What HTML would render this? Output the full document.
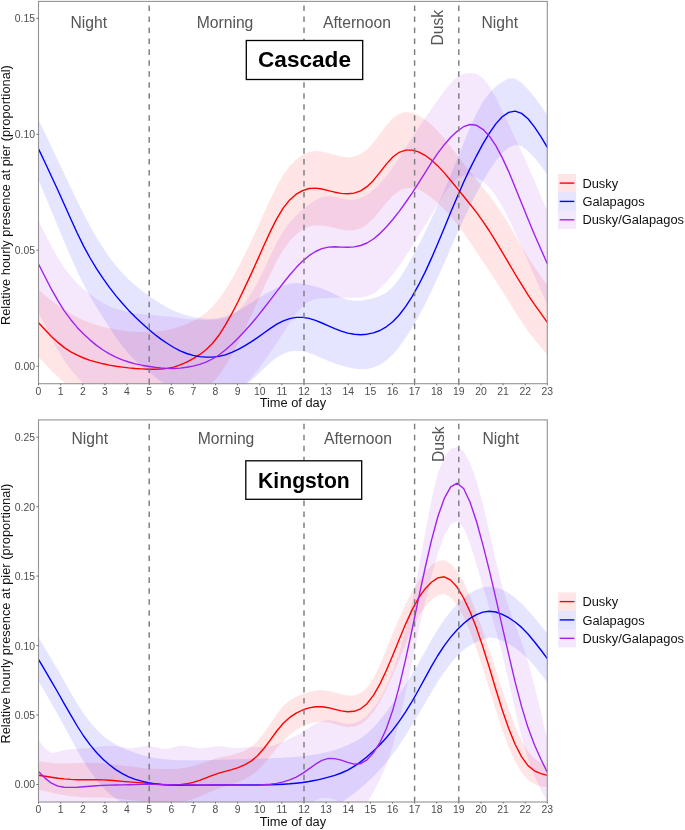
<!DOCTYPE html>
<html lang="en"><head><meta charset="utf-8"><title>Relative hourly presence at pier</title>
<style>
html,body{margin:0;padding:0;background:#fff}
body{width:685px;height:830px;overflow:hidden}
svg{display:block;will-change:transform}
text{font-family:"Liberation Sans",Arial,sans-serif}
.tk{font-size:10.4px;fill:#4d4d4d}
.ax{font-size:12.82px;fill:#111}
.lg{font-size:12.88px;fill:#111}
.pl{font-size:15.7px;fill:#555}
.tt{font-size:22.6px;font-weight:bold;fill:#000}
</style></head><body>
<svg width="685" height="830" viewBox="0 0 685 830">
<rect width="685" height="830" fill="#fff"/>
<clipPath id="cpt"><rect x="38.5" y="1.4" width="508.8" height="382.3"/></clipPath>
<g clip-path="url(#cpt)">
<path d="M38.5 289.8L45.0 295.2L51.4 300.4L57.9 305.3L64.3 309.8L70.8 313.7L77.2 317.2L83.6 320.2L90.1 322.8L96.5 325.0L103.0 326.8L109.4 328.3L115.8 329.5L122.3 330.4L128.7 331.2L135.2 331.7L141.6 332.0L148.0 332.0L154.5 331.7L160.9 331.0L167.4 329.9L173.8 328.4L180.2 326.5L186.7 324.1L193.1 321.1L199.6 317.4L206.0 312.7L212.4 306.7L218.9 299.1L225.3 289.9L231.8 279.2L238.2 267.4L244.6 254.8L251.1 241.4L257.5 227.5L263.9 213.1L270.4 199.0L276.8 186.0L283.3 174.8L289.7 165.9L296.2 159.4L302.6 154.8L309.0 151.9L315.5 150.9L321.9 151.5L328.4 153.0L334.8 155.0L341.2 156.6L347.7 157.4L354.1 156.6L360.6 154.0L367.0 149.4L373.4 142.5L379.9 134.1L386.3 125.5L392.8 118.3L399.2 113.8L405.6 111.9L412.1 112.7L418.5 115.4L425.0 119.4L431.4 124.6L437.8 131.1L444.3 138.6L450.7 146.7L457.2 155.1L463.6 163.4L470.0 171.5L476.5 179.4L482.9 187.4L489.4 195.6L495.8 204.3L502.2 213.7L508.7 224.1L515.1 235.2L521.6 246.3L528.0 256.9L534.4 266.7L540.9 276.0L547.3 285.0L547.3 354.7L540.9 347.3L534.4 339.6L528.0 331.2L521.6 321.9L515.1 311.8L508.7 301.4L502.2 291.0L495.8 280.9L489.4 271.2L482.9 261.5L476.5 251.8L470.0 242.2L463.6 232.9L457.2 224.3L450.7 216.6L444.3 209.6L437.8 203.3L431.4 197.7L425.0 192.9L418.5 189.5L412.1 187.9L405.6 188.3L399.2 190.9L392.8 195.7L386.3 202.8L379.9 210.9L373.4 218.6L367.0 224.6L360.6 228.4L354.1 230.2L347.7 230.5L341.2 229.6L334.8 228.1L328.4 226.6L321.9 225.5L315.5 225.4L309.0 226.5L302.6 229.4L296.2 234.2L289.7 241.0L283.3 250.0L276.8 261.1L270.4 273.9L263.9 287.7L257.5 302.0L251.1 316.1L244.6 329.8L238.2 342.9L231.8 355.1L225.3 366.1L218.9 375.4L212.4 382.7L206.0 388.0L199.6 391.9L193.1 395.1L186.7 398.1L180.2 400.8L173.8 403.2L167.4 405.1L160.9 406.5L154.5 407.5L148.0 408.1L141.6 408.2L135.2 407.9L128.7 407.2L122.3 406.2L115.8 404.8L109.4 403.2L103.0 401.4L96.5 399.4L90.1 397.1L83.6 394.4L77.2 391.1L70.8 387.2L64.3 382.5L57.9 377.0L51.4 370.8L45.0 364.0L38.5 357.0Z" fill="#ff0000" fill-opacity="0.1"/>
<path d="M38.5 119.8L45.0 133.2L51.4 146.7L57.9 160.3L64.3 173.9L70.8 187.6L77.2 200.9L83.6 213.8L90.1 226.0L96.5 237.4L103.0 247.8L109.4 257.2L115.8 265.5L122.3 272.9L128.7 279.4L135.2 285.2L141.6 290.4L148.0 295.2L154.5 299.7L160.9 303.8L167.4 307.5L173.8 310.7L180.2 313.3L186.7 315.3L193.1 316.9L199.6 318.1L206.0 318.8L212.4 318.8L218.9 318.0L225.3 316.3L231.8 313.9L238.2 310.7L244.6 306.9L251.1 302.9L257.5 298.7L263.9 294.8L270.4 291.2L276.8 288.1L283.3 285.5L289.7 283.6L296.2 283.0L302.6 283.7L309.0 285.0L315.5 286.5L321.9 288.4L328.4 291.0L334.8 294.2L341.2 297.4L347.7 299.8L354.1 300.8L360.6 300.7L367.0 299.7L373.4 298.2L379.9 296.1L386.3 292.6L392.8 287.0L399.2 278.9L405.6 268.7L412.1 257.1L418.5 244.9L425.0 232.2L431.4 218.9L437.8 204.9L444.3 190.2L450.7 174.8L457.2 159.0L463.6 142.9L470.0 127.4L476.5 113.3L482.9 101.7L489.4 92.9L495.8 86.5L502.2 81.7L508.7 78.4L515.1 78.5L521.6 82.7L528.0 89.3L534.4 97.1L540.9 105.8L547.3 114.9L547.3 174.8L540.9 165.9L534.4 157.7L528.0 150.9L521.6 146.3L515.1 144.8L508.7 147.5L502.2 153.2L495.8 161.0L489.4 170.6L482.9 181.5L476.5 193.3L470.0 206.0L463.6 219.4L457.2 233.5L450.7 248.2L444.3 262.9L437.8 277.4L431.4 291.3L425.0 304.4L418.5 316.5L412.1 327.8L405.6 338.0L399.2 346.9L392.8 354.4L386.3 360.4L379.9 364.7L373.4 367.6L367.0 369.1L360.6 369.3L354.1 368.5L347.7 367.2L341.2 365.4L334.8 363.4L328.4 360.9L321.9 358.2L315.5 355.3L309.0 352.9L302.6 351.2L296.2 350.7L289.7 351.6L283.3 353.8L276.8 357.6L270.4 362.6L263.9 368.5L257.5 374.7L251.1 380.7L244.6 385.8L238.2 389.7L231.8 392.6L225.3 394.5L218.9 395.6L212.4 396.2L206.0 396.3L199.6 395.8L193.1 395.0L186.7 393.6L180.2 391.8L173.8 389.2L167.4 385.9L160.9 381.6L154.5 376.6L148.0 371.3L141.6 366.1L135.2 360.5L128.7 354.1L122.3 346.3L115.8 337.3L109.4 327.5L103.0 317.4L96.5 307.2L90.1 296.4L83.6 284.6L77.2 271.5L70.8 257.1L64.3 242.0L57.9 226.6L51.4 211.1L45.0 195.5L38.5 179.9Z" fill="#0000ff" fill-opacity="0.1"/>
<path d="M38.5 220.5L45.0 233.7L51.4 246.3L57.9 257.8L64.3 267.8L70.8 276.2L77.2 283.2L83.6 289.2L90.1 294.5L96.5 299.1L103.0 302.9L109.4 306.2L115.8 308.8L122.3 310.8L128.7 312.3L135.2 313.4L141.6 314.1L148.0 314.7L154.5 315.3L160.9 315.9L167.4 316.5L173.8 317.3L180.2 318.1L186.7 318.9L193.1 319.6L199.6 320.0L206.0 320.1L212.4 319.8L218.9 319.2L225.3 317.9L231.8 315.2L238.2 310.5L244.6 303.3L251.1 293.8L257.5 282.4L263.9 269.4L270.4 255.7L276.8 242.6L283.3 231.3L289.7 222.4L296.2 215.5L302.6 209.7L309.0 204.4L315.5 200.0L321.9 196.9L328.4 195.9L334.8 196.8L341.2 198.5L347.7 199.8L354.1 199.7L360.6 198.0L367.0 194.7L373.4 189.9L379.9 183.7L386.3 176.2L392.8 167.6L399.2 158.0L405.6 147.8L412.1 137.5L418.5 127.6L425.0 118.2L431.4 109.0L437.8 99.9L444.3 90.9L450.7 82.9L457.2 76.9L463.6 73.7L470.0 72.9L476.5 73.8L482.9 77.9L489.4 86.3L495.8 97.6L502.2 110.7L508.7 124.1L515.1 137.8L521.6 151.7L528.0 166.1L534.4 180.8L540.9 195.9L547.3 211.0L547.3 304.8L540.9 290.3L534.4 275.9L528.0 261.3L521.6 246.8L515.1 232.4L508.7 218.8L502.2 206.5L495.8 195.9L489.4 187.4L482.9 181.2L476.5 177.4L470.0 175.6L463.6 175.5L457.2 178.4L450.7 184.9L444.3 194.0L437.8 204.3L431.4 215.0L425.0 225.6L418.5 236.1L412.1 246.4L405.6 256.4L399.2 265.9L392.8 274.5L386.3 282.2L379.9 288.6L373.4 293.4L367.0 296.3L360.6 297.5L354.1 297.7L347.7 297.5L341.2 297.5L334.8 297.7L328.4 297.9L321.9 298.2L315.5 299.1L309.0 301.4L302.6 306.1L296.2 313.5L289.7 322.7L283.3 332.8L276.8 342.7L270.4 352.3L263.9 361.3L257.5 369.9L251.1 377.9L244.6 384.4L238.2 389.6L231.8 394.3L225.3 398.8L218.9 403.0L212.4 406.8L206.0 410.1L199.6 412.9L193.1 415.1L186.7 416.7L180.2 417.7L173.8 418.0L167.4 417.8L160.9 417.0L154.5 416.0L148.0 414.8L141.6 413.6L135.2 412.2L128.7 410.5L122.3 408.4L115.8 405.7L109.4 402.5L103.0 398.8L96.5 394.5L90.1 389.5L83.6 383.8L77.2 377.2L70.8 369.6L64.3 360.7L57.9 350.3L51.4 338.4L45.0 325.6L38.5 312.3Z" fill="#a020f0" fill-opacity="0.1"/>
<path d="M38.5 322.8L45.0 329.7L51.4 336.4L57.9 342.4L64.3 347.6L70.8 351.8L77.2 355.2L83.6 358.0L90.1 360.3L96.5 362.2L103.0 363.8L109.4 365.1L115.8 366.2L122.3 367.1L128.7 367.9L135.2 368.5L141.6 368.9L148.0 369.2L154.5 369.3L160.9 369.1L167.4 368.4L173.8 367.1L180.2 364.9L186.7 362.1L193.1 358.7L199.6 354.7L206.0 349.8L212.4 343.5L218.9 335.3L225.3 325.2L231.8 313.7L238.2 301.2L244.6 287.9L251.1 274.1L257.5 259.9L263.9 245.5L270.4 231.4L276.8 218.6L283.3 207.9L289.7 199.9L296.2 194.2L302.6 190.6L309.0 188.5L315.5 188.1L321.9 189.0L328.4 190.6L334.8 192.2L341.2 193.4L347.7 193.8L354.1 193.1L360.6 190.8L367.0 186.7L373.4 180.4L379.9 172.4L386.3 164.1L392.8 157.0L399.2 152.3L405.6 150.1L412.1 150.1L418.5 151.9L425.0 155.3L431.4 160.0L437.8 165.9L444.3 172.9L450.7 180.5L457.2 188.4L463.6 196.3L470.0 204.2L476.5 212.4L482.9 221.3L489.4 231.0L495.8 241.3L502.2 252.1L508.7 263.1L515.1 274.0L521.6 284.7L528.0 294.8L534.4 304.3L540.9 313.4L547.3 322.3" fill="none" stroke="#ff0000" stroke-width="1.38" stroke-linejoin="round"/>
<path d="M38.5 148.9L45.0 162.5L51.4 176.2L57.9 190.2L64.3 204.5L70.8 219.0L77.2 233.0L83.6 246.1L90.1 258.0L96.5 268.7L103.0 278.4L109.4 287.4L115.8 295.6L122.3 303.3L128.7 310.4L135.2 317.0L141.6 323.1L148.0 328.8L154.5 334.2L160.9 339.1L167.4 343.5L173.8 347.5L180.2 350.8L186.7 353.5L193.1 355.4L199.6 356.6L206.0 357.1L212.4 357.1L218.9 356.4L225.3 354.8L231.8 352.4L238.2 349.4L244.6 345.9L251.1 341.9L257.5 337.6L263.9 333.0L270.4 328.4L276.8 324.2L283.3 320.9L289.7 318.6L296.2 317.4L302.6 317.4L309.0 318.4L315.5 320.4L321.9 323.0L328.4 325.8L334.8 328.6L341.2 331.1L347.7 333.1L354.1 334.3L360.6 334.7L367.0 334.2L373.4 332.8L379.9 330.5L386.3 326.8L392.8 321.7L399.2 315.0L405.6 306.6L412.1 296.6L418.5 285.2L425.0 272.4L431.4 258.4L437.8 243.6L444.3 228.0L450.7 212.3L457.2 196.9L463.6 182.3L470.0 168.6L476.5 155.8L482.9 143.9L489.4 133.1L495.8 123.9L502.2 116.8L508.7 112.4L515.1 111.1L521.6 113.4L528.0 118.8L534.4 126.9L540.9 136.7L547.3 147.4" fill="none" stroke="#0000ff" stroke-width="1.38" stroke-linejoin="round"/>
<path d="M38.5 264.0L45.0 276.8L51.4 289.2L57.9 300.7L64.3 310.9L70.8 319.7L77.2 327.4L83.6 334.1L90.1 340.1L96.5 345.4L103.0 350.0L109.4 353.9L115.8 357.2L122.3 359.9L128.7 362.0L135.2 363.8L141.6 365.2L148.0 366.3L154.5 367.3L160.9 368.0L167.4 368.4L173.8 368.5L180.2 368.1L186.7 367.3L193.1 366.1L199.6 364.4L206.0 362.1L212.4 359.0L218.9 355.0L225.3 350.0L231.8 344.3L238.2 337.9L244.6 331.2L251.1 324.0L257.5 316.4L263.9 308.3L270.4 299.9L276.8 291.4L283.3 283.0L289.7 275.0L296.2 267.6L302.6 261.1L309.0 255.7L315.5 251.5L321.9 248.6L328.4 247.1L334.8 246.8L341.2 247.1L347.7 247.3L354.1 246.9L360.6 245.5L367.0 243.0L373.4 239.0L379.9 233.6L386.3 227.0L392.8 219.5L399.2 211.3L405.6 202.5L412.1 193.1L418.5 183.2L425.0 172.9L431.4 162.7L437.8 153.2L444.3 144.7L450.7 137.3L457.2 131.2L463.6 126.7L470.0 124.5L476.5 125.3L482.9 129.3L489.4 136.2L495.8 145.7L502.2 157.6L508.7 171.6L515.1 187.2L521.6 203.3L528.0 219.1L534.4 234.4L540.9 249.2L547.3 263.8" fill="none" stroke="#a020f0" stroke-width="1.38" stroke-linejoin="round"/>
<line x1="149.2" x2="149.2" y1="384.0" y2="1.4" stroke="#7d7d7d" stroke-width="1.45" stroke-dasharray="5.55 5.42"/>
<line x1="304.0" x2="304.0" y1="384.0" y2="1.4" stroke="#7d7d7d" stroke-width="1.45" stroke-dasharray="5.55 5.42"/>
<line x1="414.6" x2="414.6" y1="384.0" y2="1.4" stroke="#7d7d7d" stroke-width="1.45" stroke-dasharray="5.55 5.42"/>
<line x1="458.8" x2="458.8" y1="384.0" y2="1.4" stroke="#7d7d7d" stroke-width="1.45" stroke-dasharray="5.55 5.42"/>
</g>
<rect x="38.5" y="1.4" width="508.8" height="382.3" fill="none" stroke="#939393" stroke-width="1.1"/>
<line x1="38.5" x2="38.5" y1="383.7" y2="385.3" stroke="#555" stroke-width="0.8"/>
<text x="38.5" y="394.7" class="tk" text-anchor="middle">0</text>
<line x1="60.7" x2="60.7" y1="383.7" y2="385.3" stroke="#555" stroke-width="0.8"/>
<text x="60.7" y="394.7" class="tk" text-anchor="middle">1</text>
<line x1="82.8" x2="82.8" y1="383.7" y2="385.3" stroke="#555" stroke-width="0.8"/>
<text x="82.8" y="394.7" class="tk" text-anchor="middle">2</text>
<line x1="104.9" x2="104.9" y1="383.7" y2="385.3" stroke="#555" stroke-width="0.8"/>
<text x="104.9" y="394.7" class="tk" text-anchor="middle">3</text>
<line x1="127.0" x2="127.0" y1="383.7" y2="385.3" stroke="#555" stroke-width="0.8"/>
<text x="127.0" y="394.7" class="tk" text-anchor="middle">4</text>
<line x1="149.2" x2="149.2" y1="383.7" y2="385.3" stroke="#555" stroke-width="0.8"/>
<text x="149.2" y="394.7" class="tk" text-anchor="middle">5</text>
<line x1="171.3" x2="171.3" y1="383.7" y2="385.3" stroke="#555" stroke-width="0.8"/>
<text x="171.3" y="394.7" class="tk" text-anchor="middle">6</text>
<line x1="193.4" x2="193.4" y1="383.7" y2="385.3" stroke="#555" stroke-width="0.8"/>
<text x="193.4" y="394.7" class="tk" text-anchor="middle">7</text>
<line x1="215.5" x2="215.5" y1="383.7" y2="385.3" stroke="#555" stroke-width="0.8"/>
<text x="215.5" y="394.7" class="tk" text-anchor="middle">8</text>
<line x1="237.6" x2="237.6" y1="383.7" y2="385.3" stroke="#555" stroke-width="0.8"/>
<text x="237.6" y="394.7" class="tk" text-anchor="middle">9</text>
<line x1="259.8" x2="259.8" y1="383.7" y2="385.3" stroke="#555" stroke-width="0.8"/>
<text x="259.8" y="394.7" class="tk" text-anchor="middle">10</text>
<line x1="281.9" x2="281.9" y1="383.7" y2="385.3" stroke="#555" stroke-width="0.8"/>
<text x="281.9" y="394.7" class="tk" text-anchor="middle">11</text>
<line x1="304.0" x2="304.0" y1="383.7" y2="385.3" stroke="#555" stroke-width="0.8"/>
<text x="304.0" y="394.7" class="tk" text-anchor="middle">12</text>
<line x1="326.1" x2="326.1" y1="383.7" y2="385.3" stroke="#555" stroke-width="0.8"/>
<text x="326.1" y="394.7" class="tk" text-anchor="middle">13</text>
<line x1="348.2" x2="348.2" y1="383.7" y2="385.3" stroke="#555" stroke-width="0.8"/>
<text x="348.2" y="394.7" class="tk" text-anchor="middle">14</text>
<line x1="370.4" x2="370.4" y1="383.7" y2="385.3" stroke="#555" stroke-width="0.8"/>
<text x="370.4" y="394.7" class="tk" text-anchor="middle">15</text>
<line x1="392.5" x2="392.5" y1="383.7" y2="385.3" stroke="#555" stroke-width="0.8"/>
<text x="392.5" y="394.7" class="tk" text-anchor="middle">16</text>
<line x1="414.6" x2="414.6" y1="383.7" y2="385.3" stroke="#555" stroke-width="0.8"/>
<text x="414.6" y="394.7" class="tk" text-anchor="middle">17</text>
<line x1="436.7" x2="436.7" y1="383.7" y2="385.3" stroke="#555" stroke-width="0.8"/>
<text x="436.7" y="394.7" class="tk" text-anchor="middle">18</text>
<line x1="458.8" x2="458.8" y1="383.7" y2="385.3" stroke="#555" stroke-width="0.8"/>
<text x="458.8" y="394.7" class="tk" text-anchor="middle">19</text>
<line x1="481.0" x2="481.0" y1="383.7" y2="385.3" stroke="#555" stroke-width="0.8"/>
<text x="481.0" y="394.7" class="tk" text-anchor="middle">20</text>
<line x1="503.1" x2="503.1" y1="383.7" y2="385.3" stroke="#555" stroke-width="0.8"/>
<text x="503.1" y="394.7" class="tk" text-anchor="middle">21</text>
<line x1="525.2" x2="525.2" y1="383.7" y2="385.3" stroke="#555" stroke-width="0.8"/>
<text x="525.2" y="394.7" class="tk" text-anchor="middle">22</text>
<line x1="547.3" x2="547.3" y1="383.7" y2="385.3" stroke="#555" stroke-width="0.8"/>
<text x="547.3" y="394.7" class="tk" text-anchor="middle">23</text>
<line x1="36.3" x2="38.5" y1="18.3" y2="18.3" stroke="#555" stroke-width="0.8"/>
<text x="35.0" y="22.2" class="tk" text-anchor="end">0.15</text>
<line x1="36.3" x2="38.5" y1="134.3" y2="134.3" stroke="#555" stroke-width="0.8"/>
<text x="35.0" y="138.2" class="tk" text-anchor="end">0.10</text>
<line x1="36.3" x2="38.5" y1="250.2" y2="250.2" stroke="#555" stroke-width="0.8"/>
<text x="35.0" y="254.2" class="tk" text-anchor="end">0.05</text>
<line x1="36.3" x2="38.5" y1="366.2" y2="366.2" stroke="#555" stroke-width="0.8"/>
<text x="35.0" y="370.1" class="tk" text-anchor="end">0.00</text>
<text x="292.9" y="407.2" class="ax" text-anchor="middle">Time of day</text>
<text transform="translate(10.4 195.1) rotate(-90)" class="ax" text-anchor="middle">Relative hourly presence at pier (proportional)</text>
<text x="88.7" y="27.6" class="pl" text-anchor="middle">Night</text>
<text x="225.0" y="27.6" class="pl" text-anchor="middle">Morning</text>
<text x="357.0" y="27.6" class="pl" text-anchor="middle">Afternoon</text>
<text x="499.8" y="27.6" class="pl" text-anchor="middle">Night</text>
<text transform="translate(443.0 45.6) rotate(-90)" class="pl">Dusk</text>
<rect x="246.3" y="40.5" width="116.4" height="39.0" fill="#fff" stroke="#000" stroke-width="1.3"/>
<text x="304.5" y="66.9" class="tt" text-anchor="middle">Cascade</text>
<rect x="557.9" y="173.9" width="18.2" height="18.35" fill="#ff0000" fill-opacity="0.1"/>
<line x1="559.7" x2="574.3" y1="183.1" y2="183.1" stroke="#ff0000" stroke-width="1.38"/>
<text x="582.4" y="187.7" class="lg">Dusky</text>
<rect x="557.9" y="192.2" width="18.2" height="18.35" fill="#0000ff" fill-opacity="0.1"/>
<line x1="559.7" x2="574.3" y1="201.4" y2="201.4" stroke="#0000ff" stroke-width="1.38"/>
<text x="582.4" y="206.0" class="lg">Galapagos</text>
<rect x="557.9" y="210.6" width="18.2" height="18.35" fill="#a020f0" fill-opacity="0.1"/>
<line x1="559.7" x2="574.3" y1="219.8" y2="219.8" stroke="#a020f0" stroke-width="1.38"/>
<text x="582.4" y="224.4" class="lg">Dusky/Galapagos</text>
<clipPath id="cpb"><rect x="38.5" y="419.9" width="508.8" height="382.1"/></clipPath>
<g clip-path="url(#cpb)">
<path d="M38.5 761.0L45.0 762.0L51.4 762.8L57.9 763.4L64.3 763.5L70.8 763.4L77.2 763.0L83.6 762.8L90.1 762.8L96.5 762.9L103.0 763.3L109.4 763.9L115.8 764.6L122.3 765.4L128.7 766.2L135.2 767.0L141.6 767.8L148.0 768.4L154.5 768.8L160.9 769.1L167.4 769.1L173.8 768.9L180.2 768.4L186.7 767.5L193.1 766.1L199.6 764.0L206.0 761.7L212.4 759.4L218.9 757.6L225.3 756.3L231.8 755.0L238.2 753.3L244.6 750.8L251.1 746.9L257.5 741.1L263.9 733.1L270.4 723.5L276.8 713.9L283.3 705.9L289.7 700.3L296.2 696.7L302.6 694.1L309.0 691.9L315.5 690.4L321.9 690.1L328.4 690.9L334.8 692.5L341.2 694.2L347.7 695.4L354.1 695.4L360.6 693.1L367.0 687.7L373.4 678.2L379.9 664.9L386.3 649.3L392.8 633.3L399.2 618.2L405.6 604.3L412.1 591.8L418.5 581.0L425.0 572.1L431.4 565.3L437.8 561.1L444.3 560.3L450.7 563.7L457.2 571.1L463.6 582.0L470.0 596.0L476.5 612.5L482.9 630.7L489.4 650.1L495.8 670.0L502.2 689.9L508.7 708.9L515.1 726.2L521.6 740.7L528.0 751.5L534.4 758.4L540.9 762.9L547.3 766.0L547.3 787.3L540.9 786.4L534.4 784.3L528.0 780.1L521.6 772.6L515.1 761.5L508.7 747.2L502.2 729.9L495.8 710.2L489.4 689.3L482.9 668.5L476.5 649.0L470.0 631.6L463.6 616.9L457.2 605.3L450.7 597.5L444.3 594.1L437.8 595.4L431.4 599.9L425.0 607.0L418.5 616.7L412.1 629.2L405.6 643.9L399.2 659.7L392.8 675.3L386.3 689.6L379.9 702.0L373.4 712.1L367.0 719.6L360.6 724.4L354.1 726.8L347.7 727.3L341.2 726.1L334.8 724.1L328.4 722.4L321.9 721.7L315.5 722.2L309.0 723.7L302.6 726.2L296.2 729.9L289.7 734.7L283.3 740.8L276.8 748.2L270.4 756.2L263.9 764.0L257.5 770.6L251.1 775.6L244.6 779.3L238.2 782.1L231.8 784.3L225.3 786.4L218.9 788.5L212.4 790.9L206.0 793.8L199.6 796.6L193.1 799.1L186.7 801.0L180.2 802.2L173.8 802.9L167.4 803.1L160.9 802.9L154.5 802.5L148.0 801.9L141.6 801.3L135.2 800.6L128.7 799.9L122.3 799.2L115.8 798.5L109.4 798.0L103.0 797.6L96.5 797.5L90.1 797.4L83.6 797.2L77.2 796.9L70.8 796.2L64.3 795.3L57.9 794.2L51.4 792.8L45.0 791.3L38.5 789.7Z" fill="#ff0000" fill-opacity="0.1"/>
<path d="M38.5 637.5L45.0 648.2L51.4 659.0L57.9 670.0L64.3 681.3L70.8 692.7L77.2 703.7L83.6 713.6L90.1 722.3L96.5 729.6L103.0 735.7L109.4 740.6L115.8 744.6L122.3 747.8L128.7 750.5L135.2 752.8L141.6 754.9L148.0 756.5L154.5 757.9L160.9 758.8L167.4 759.5L173.8 760.0L180.2 760.2L186.7 760.3L193.1 760.3L199.6 760.2L206.0 760.0L212.4 759.9L218.9 759.7L225.3 759.6L231.8 759.5L238.2 759.3L244.6 759.1L251.1 758.8L257.5 758.6L263.9 758.4L270.4 758.2L276.8 758.0L283.3 757.7L289.7 757.3L296.2 756.8L302.6 756.2L309.0 755.4L315.5 754.4L321.9 753.2L328.4 751.7L334.8 749.9L341.2 747.7L347.7 745.0L354.1 742.0L360.6 738.2L367.0 733.5L373.4 727.4L379.9 720.1L386.3 711.9L392.8 703.1L399.2 694.0L405.6 684.4L412.1 674.1L418.5 663.1L425.0 651.5L431.4 640.0L437.8 629.2L444.3 619.6L450.7 611.3L457.2 604.1L463.6 598.0L470.0 593.2L476.5 589.5L482.9 587.3L489.4 586.4L495.8 587.2L502.2 589.4L508.7 593.0L515.1 597.8L521.6 603.6L528.0 610.3L534.4 617.7L540.9 625.5L547.3 633.5L547.3 682.4L540.9 674.1L534.4 666.1L528.0 659.0L521.6 653.0L515.1 648.1L508.7 644.1L502.2 640.8L495.8 638.2L489.4 637.5L482.9 639.2L476.5 642.0L470.0 645.5L463.6 650.1L457.2 656.0L450.7 663.4L444.3 672.0L437.8 681.7L431.4 692.2L425.0 703.2L418.5 714.3L412.1 725.2L405.6 735.6L399.2 745.3L392.8 754.3L386.3 762.5L379.9 769.8L373.4 776.5L367.0 782.6L360.6 788.3L354.1 793.4L347.7 798.1L341.2 802.2L334.8 804.2L328.4 804.9L321.9 805.3L315.5 805.9L309.0 806.5L302.6 807.1L296.2 807.5L289.7 807.8L283.3 808.0L276.8 808.0L270.4 808.0L263.9 808.0L257.5 808.0L251.1 808.3L244.6 808.6L238.2 809.0L231.8 809.3L225.3 809.7L218.9 809.9L212.4 810.1L206.0 810.1L199.6 810.1L193.1 810.0L186.7 809.9L180.2 809.9L173.8 810.0L167.4 810.1L160.9 810.2L154.5 810.2L148.0 809.9L141.6 809.2L135.2 807.9L128.7 805.7L122.3 802.6L115.8 798.6L109.4 793.8L103.0 787.7L96.5 780.1L90.1 771.2L83.6 761.2L77.2 750.2L70.8 738.5L64.3 726.6L57.9 714.8L51.4 703.4L45.0 692.3L38.5 681.2Z" fill="#0000ff" fill-opacity="0.1"/>
<path d="M38.5 739.8L45.0 748.5L51.4 752.9L57.9 752.0L64.3 750.1L70.8 749.2L77.2 748.9L83.6 748.5L90.1 747.9L96.5 747.1L103.0 746.3L109.4 745.8L115.8 746.1L122.3 747.3L128.7 748.2L135.2 747.8L141.6 746.5L148.0 745.9L154.5 746.9L160.9 748.6L167.4 748.8L173.8 747.3L180.2 745.7L186.7 745.9L193.1 747.3L199.6 748.4L206.0 747.9L212.4 746.7L218.9 746.0L225.3 746.7L231.8 747.8L238.2 748.2L244.6 747.5L251.1 746.8L257.5 746.9L263.9 747.1L270.4 746.3L276.8 744.3L283.3 741.7L289.7 738.8L296.2 735.5L302.6 731.9L309.0 727.7L315.5 723.8L321.9 720.9L328.4 719.9L334.8 721.0L341.2 722.8L347.7 724.0L354.1 723.3L360.6 720.5L367.0 715.5L373.4 708.3L379.9 698.7L386.3 686.5L392.8 671.3L399.2 652.6L405.6 629.8L412.1 602.3L418.5 569.4L425.0 533.7L431.4 500.1L437.8 473.5L444.3 456.8L450.7 448.7L457.2 447.1L463.6 451.4L470.0 462.7L476.5 480.4L482.9 504.0L489.4 531.8L495.8 560.5L502.2 586.8L508.7 607.7L515.1 625.0L521.6 641.9L528.0 661.6L534.4 685.4L540.9 711.9L547.3 739.8L547.3 801.5L540.9 789.7L534.4 776.2L528.0 759.0L521.6 736.6L515.1 709.8L508.7 681.3L502.2 654.1L495.8 630.0L489.4 607.9L482.9 586.4L476.5 564.4L470.0 543.6L463.6 528.0L457.2 521.2L450.7 524.4L444.3 535.8L437.8 553.7L431.4 576.3L425.0 602.6L418.5 631.6L412.1 662.0L405.6 692.6L399.2 721.3L392.8 746.0L386.3 765.3L379.9 779.5L373.4 792.1L367.0 803.3L360.6 805.9L354.1 806.4L347.7 805.9L341.2 803.0L334.8 799.8L328.4 797.8L321.9 798.1L315.5 800.3L309.0 803.3L302.6 806.0L296.2 807.9L289.7 809.1L283.3 809.9L276.8 810.4L270.4 810.9L263.9 811.3L257.5 811.5L251.1 811.7L244.6 811.9L238.2 812.0L231.8 812.1L225.3 812.1L218.9 812.1L212.4 812.1L206.0 812.1L199.6 812.1L193.1 812.1L186.7 812.0L180.2 812.0L173.8 812.0L167.4 812.0L160.9 812.0L154.5 812.0L148.0 812.1L141.6 812.1L135.2 812.1L128.7 812.1L122.3 812.1L115.8 812.1L109.4 812.1L103.0 812.0L96.5 811.9L90.1 811.7L83.6 811.6L77.2 811.4L70.8 811.2L64.3 811.0L57.9 810.7L51.4 810.5L45.0 810.2L38.5 810.0Z" fill="#a020f0" fill-opacity="0.1"/>
<path d="M38.5 775.3L45.0 776.3L51.4 777.3L57.9 778.2L64.3 778.9L70.8 779.4L77.2 779.7L83.6 779.8L90.1 779.8L96.5 779.8L103.0 779.9L109.4 780.3L115.8 780.8L122.3 781.4L128.7 781.9L135.2 782.4L141.6 782.9L148.0 783.4L154.5 784.0L160.9 784.5L167.4 784.9L173.8 785.0L180.2 784.7L186.7 783.8L193.1 782.4L199.6 780.3L206.0 777.8L212.4 775.4L218.9 773.2L225.3 771.4L231.8 769.7L238.2 767.6L244.6 764.9L251.1 761.1L257.5 755.8L263.9 748.5L270.4 739.8L276.8 731.0L283.3 723.3L289.7 717.4L296.2 713.1L302.6 710.0L309.0 707.9L315.5 706.8L321.9 706.8L328.4 707.7L334.8 709.3L341.2 710.9L347.7 711.8L354.1 711.3L360.6 708.8L367.0 703.7L373.4 695.4L379.9 684.1L386.3 670.5L392.8 655.3L399.2 639.5L405.6 624.1L412.1 609.9L418.5 598.1L425.0 588.9L431.4 582.2L437.8 577.9L444.3 576.8L450.7 580.1L457.2 587.3L463.6 598.0L470.0 611.6L476.5 628.1L482.9 647.0L489.4 667.8L495.8 689.2L502.2 709.8L508.7 728.4L515.1 744.3L521.6 756.9L528.0 765.6L534.4 770.8L540.9 773.7L547.3 775.3" fill="none" stroke="#ff0000" stroke-width="1.38" stroke-linejoin="round"/>
<path d="M38.5 659.4L45.0 670.3L51.4 681.3L57.9 692.5L64.3 703.8L70.8 715.2L77.2 726.0L83.6 736.0L90.1 744.9L96.5 752.5L103.0 759.2L109.4 764.8L115.8 769.6L122.3 773.6L128.7 776.8L135.2 779.3L141.6 781.2L148.0 782.6L154.5 783.6L160.9 784.4L167.4 784.8L173.8 785.1L180.2 785.2L186.7 785.2L193.1 785.2L199.6 785.1L206.0 785.1L212.4 785.0L218.9 785.0L225.3 785.0L231.8 785.0L238.2 785.0L244.6 785.0L251.1 785.0L257.5 785.0L263.9 784.9L270.4 784.8L276.8 784.5L283.3 784.2L289.7 783.8L296.2 783.2L302.6 782.5L309.0 781.5L315.5 780.3L321.9 778.8L328.4 777.2L334.8 775.3L341.2 773.0L347.7 770.1L354.1 766.4L360.6 761.9L367.0 756.7L373.4 751.0L379.9 744.7L386.3 737.7L392.8 729.9L399.2 721.3L405.6 711.8L412.1 701.3L418.5 690.0L425.0 678.2L431.4 666.4L437.8 655.5L444.3 645.7L450.7 637.1L457.2 629.7L463.6 623.5L470.0 618.4L476.5 614.6L482.9 612.1L489.4 611.2L495.8 612.0L502.2 614.3L508.7 617.7L515.1 622.0L521.6 627.4L528.0 634.0L534.4 641.7L540.9 650.0L547.3 658.7" fill="none" stroke="#0000ff" stroke-width="1.38" stroke-linejoin="round"/>
<path d="M38.5 771.5L45.0 778.1L51.4 783.2L57.9 786.1L64.3 787.2L70.8 787.4L77.2 787.2L83.6 786.7L90.1 786.2L96.5 785.8L103.0 785.4L109.4 785.1L115.8 785.0L122.3 784.9L128.7 784.8L135.2 784.6L141.6 784.4L148.0 784.3L154.5 784.4L160.9 784.5L167.4 784.7L173.8 784.9L180.2 784.9L186.7 785.0L193.1 785.0L199.6 785.0L206.0 785.0L212.4 785.0L218.9 785.0L225.3 785.0L231.8 785.0L238.2 785.0L244.6 785.1L251.1 785.1L257.5 785.1L263.9 784.8L270.4 784.3L276.8 783.4L283.3 781.9L289.7 779.9L296.2 777.1L302.6 773.4L309.0 768.9L315.5 764.2L321.9 760.4L328.4 758.4L334.8 758.6L341.2 760.1L347.7 762.3L354.1 764.1L360.6 763.7L367.0 759.8L373.4 752.8L379.9 742.7L386.3 728.7L392.8 710.1L399.2 686.6L405.6 659.3L412.1 629.5L418.5 598.7L425.0 568.5L431.4 540.6L437.8 516.7L444.3 498.4L450.7 486.9L457.2 483.2L463.6 488.5L470.0 502.0L476.5 521.5L482.9 544.9L489.4 570.7L495.8 598.1L502.2 626.3L508.7 654.6L515.1 681.8L521.6 706.6L528.0 727.6L534.4 744.7L540.9 759.2L547.3 772.3" fill="none" stroke="#a020f0" stroke-width="1.38" stroke-linejoin="round"/>
<line x1="149.2" x2="149.2" y1="802.3" y2="419.9" stroke="#7d7d7d" stroke-width="1.45" stroke-dasharray="5.55 5.42"/>
<line x1="304.0" x2="304.0" y1="802.3" y2="419.9" stroke="#7d7d7d" stroke-width="1.45" stroke-dasharray="5.55 5.42"/>
<line x1="414.6" x2="414.6" y1="802.3" y2="419.9" stroke="#7d7d7d" stroke-width="1.45" stroke-dasharray="5.55 5.42"/>
<line x1="458.8" x2="458.8" y1="802.3" y2="419.9" stroke="#7d7d7d" stroke-width="1.45" stroke-dasharray="5.55 5.42"/>
</g>
<rect x="38.5" y="419.9" width="508.8" height="382.1" fill="none" stroke="#939393" stroke-width="1.1"/>
<line x1="38.5" x2="38.5" y1="802.0" y2="803.6" stroke="#555" stroke-width="0.8"/>
<text x="38.5" y="813.0" class="tk" text-anchor="middle">0</text>
<line x1="60.7" x2="60.7" y1="802.0" y2="803.6" stroke="#555" stroke-width="0.8"/>
<text x="60.7" y="813.0" class="tk" text-anchor="middle">1</text>
<line x1="82.8" x2="82.8" y1="802.0" y2="803.6" stroke="#555" stroke-width="0.8"/>
<text x="82.8" y="813.0" class="tk" text-anchor="middle">2</text>
<line x1="104.9" x2="104.9" y1="802.0" y2="803.6" stroke="#555" stroke-width="0.8"/>
<text x="104.9" y="813.0" class="tk" text-anchor="middle">3</text>
<line x1="127.0" x2="127.0" y1="802.0" y2="803.6" stroke="#555" stroke-width="0.8"/>
<text x="127.0" y="813.0" class="tk" text-anchor="middle">4</text>
<line x1="149.2" x2="149.2" y1="802.0" y2="803.6" stroke="#555" stroke-width="0.8"/>
<text x="149.2" y="813.0" class="tk" text-anchor="middle">5</text>
<line x1="171.3" x2="171.3" y1="802.0" y2="803.6" stroke="#555" stroke-width="0.8"/>
<text x="171.3" y="813.0" class="tk" text-anchor="middle">6</text>
<line x1="193.4" x2="193.4" y1="802.0" y2="803.6" stroke="#555" stroke-width="0.8"/>
<text x="193.4" y="813.0" class="tk" text-anchor="middle">7</text>
<line x1="215.5" x2="215.5" y1="802.0" y2="803.6" stroke="#555" stroke-width="0.8"/>
<text x="215.5" y="813.0" class="tk" text-anchor="middle">8</text>
<line x1="237.6" x2="237.6" y1="802.0" y2="803.6" stroke="#555" stroke-width="0.8"/>
<text x="237.6" y="813.0" class="tk" text-anchor="middle">9</text>
<line x1="259.8" x2="259.8" y1="802.0" y2="803.6" stroke="#555" stroke-width="0.8"/>
<text x="259.8" y="813.0" class="tk" text-anchor="middle">10</text>
<line x1="281.9" x2="281.9" y1="802.0" y2="803.6" stroke="#555" stroke-width="0.8"/>
<text x="281.9" y="813.0" class="tk" text-anchor="middle">11</text>
<line x1="304.0" x2="304.0" y1="802.0" y2="803.6" stroke="#555" stroke-width="0.8"/>
<text x="304.0" y="813.0" class="tk" text-anchor="middle">12</text>
<line x1="326.1" x2="326.1" y1="802.0" y2="803.6" stroke="#555" stroke-width="0.8"/>
<text x="326.1" y="813.0" class="tk" text-anchor="middle">13</text>
<line x1="348.2" x2="348.2" y1="802.0" y2="803.6" stroke="#555" stroke-width="0.8"/>
<text x="348.2" y="813.0" class="tk" text-anchor="middle">14</text>
<line x1="370.4" x2="370.4" y1="802.0" y2="803.6" stroke="#555" stroke-width="0.8"/>
<text x="370.4" y="813.0" class="tk" text-anchor="middle">15</text>
<line x1="392.5" x2="392.5" y1="802.0" y2="803.6" stroke="#555" stroke-width="0.8"/>
<text x="392.5" y="813.0" class="tk" text-anchor="middle">16</text>
<line x1="414.6" x2="414.6" y1="802.0" y2="803.6" stroke="#555" stroke-width="0.8"/>
<text x="414.6" y="813.0" class="tk" text-anchor="middle">17</text>
<line x1="436.7" x2="436.7" y1="802.0" y2="803.6" stroke="#555" stroke-width="0.8"/>
<text x="436.7" y="813.0" class="tk" text-anchor="middle">18</text>
<line x1="458.8" x2="458.8" y1="802.0" y2="803.6" stroke="#555" stroke-width="0.8"/>
<text x="458.8" y="813.0" class="tk" text-anchor="middle">19</text>
<line x1="481.0" x2="481.0" y1="802.0" y2="803.6" stroke="#555" stroke-width="0.8"/>
<text x="481.0" y="813.0" class="tk" text-anchor="middle">20</text>
<line x1="503.1" x2="503.1" y1="802.0" y2="803.6" stroke="#555" stroke-width="0.8"/>
<text x="503.1" y="813.0" class="tk" text-anchor="middle">21</text>
<line x1="525.2" x2="525.2" y1="802.0" y2="803.6" stroke="#555" stroke-width="0.8"/>
<text x="525.2" y="813.0" class="tk" text-anchor="middle">22</text>
<line x1="547.3" x2="547.3" y1="802.0" y2="803.6" stroke="#555" stroke-width="0.8"/>
<text x="547.3" y="813.0" class="tk" text-anchor="middle">23</text>
<line x1="36.3" x2="38.5" y1="437.2" y2="437.2" stroke="#555" stroke-width="0.8"/>
<text x="35.0" y="441.1" class="tk" text-anchor="end">0.25</text>
<line x1="36.3" x2="38.5" y1="506.7" y2="506.7" stroke="#555" stroke-width="0.8"/>
<text x="35.0" y="510.6" class="tk" text-anchor="end">0.20</text>
<line x1="36.3" x2="38.5" y1="576.1" y2="576.1" stroke="#555" stroke-width="0.8"/>
<text x="35.0" y="580.0" class="tk" text-anchor="end">0.15</text>
<line x1="36.3" x2="38.5" y1="645.6" y2="645.6" stroke="#555" stroke-width="0.8"/>
<text x="35.0" y="649.5" class="tk" text-anchor="end">0.10</text>
<line x1="36.3" x2="38.5" y1="715.0" y2="715.0" stroke="#555" stroke-width="0.8"/>
<text x="35.0" y="718.9" class="tk" text-anchor="end">0.05</text>
<line x1="36.3" x2="38.5" y1="784.5" y2="784.5" stroke="#555" stroke-width="0.8"/>
<text x="35.0" y="788.4" class="tk" text-anchor="end">0.00</text>
<text x="292.9" y="825.5" class="ax" text-anchor="middle">Time of day</text>
<text transform="translate(10.4 613.6) rotate(-90)" class="ax" text-anchor="middle">Relative hourly presence at pier (proportional)</text>
<text x="89.7" y="444.4" class="pl" text-anchor="middle">Night</text>
<text x="226.0" y="444.4" class="pl" text-anchor="middle">Morning</text>
<text x="358.0" y="444.4" class="pl" text-anchor="middle">Afternoon</text>
<text x="500.8" y="444.4" class="pl" text-anchor="middle">Night</text>
<text transform="translate(444.3 462.1) rotate(-90)" class="pl">Dusk</text>
<rect x="245.8" y="460.8" width="115.9" height="38.5" fill="#fff" stroke="#000" stroke-width="1.3"/>
<text x="303.9" y="487.5" class="tt" text-anchor="middle" textLength="91.7" lengthAdjust="spacingAndGlyphs">Kingston</text>
<rect x="557.9" y="592.4" width="18.2" height="18.35" fill="#ff0000" fill-opacity="0.1"/>
<line x1="559.7" x2="574.3" y1="601.6" y2="601.6" stroke="#ff0000" stroke-width="1.38"/>
<text x="582.4" y="606.2" class="lg">Dusky</text>
<rect x="557.9" y="610.8" width="18.2" height="18.35" fill="#0000ff" fill-opacity="0.1"/>
<line x1="559.7" x2="574.3" y1="619.9" y2="619.9" stroke="#0000ff" stroke-width="1.38"/>
<text x="582.4" y="624.5" class="lg">Galapagos</text>
<rect x="557.9" y="629.1" width="18.2" height="18.35" fill="#a020f0" fill-opacity="0.1"/>
<line x1="559.7" x2="574.3" y1="638.3" y2="638.3" stroke="#a020f0" stroke-width="1.38"/>
<text x="582.4" y="642.9" class="lg">Dusky/Galapagos</text>
</svg>
</body></html>
